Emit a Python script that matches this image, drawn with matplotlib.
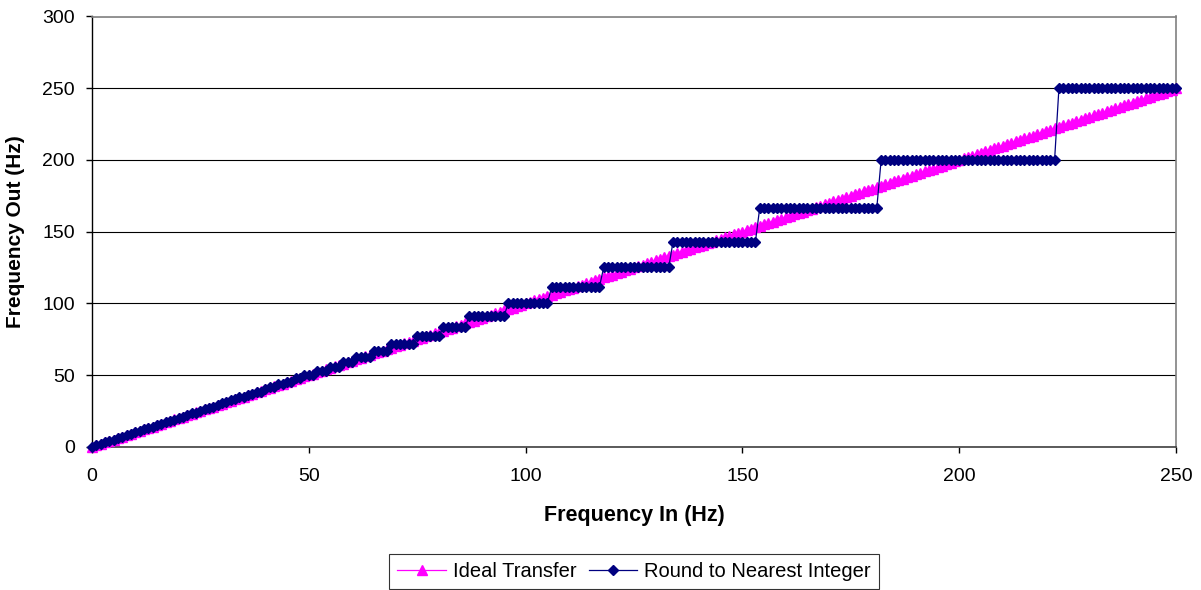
"""
Transfer chart: ideal frequency output vs. output rounded to nearest integer divider.
"""

import matplotlib
matplotlib.use("Agg")
import matplotlib.pyplot as plt

# input frequency, 0..250 Hz in steps of 1 Hz
freq_in = list(range(0, 251))

ideal_out = list(range(0, 251))

# rounded transfer, individual points for 0..48 Hz
round_low = [
    0.00, 1.00, 2.00, 3.00, 4.00, 5.00, 5.99, 6.99, 8.00, 9.01,
    10.00, 10.99, 12.05, 12.99, 14.08, 14.93, 15.87, 16.95, 17.86, 18.87,
    20.00, 20.83, 22.22, 23.26, 23.81, 25.00, 26.32, 27.03, 27.78, 29.41,
    30.30, 31.25, 32.26, 33.33, 34.48, 34.48, 35.71, 37.04, 38.46, 38.46,
    40.00, 41.67, 41.67, 43.48, 43.48, 45.45, 45.45, 47.62, 47.62,
]
# rounded transfer from 49 Hz on: plateau level and how many points sit on it
step_levels = [50.00, 52.63, 55.56, 58.82, 62.50, 66.67, 71.43, 76.92, 83.33,
               90.91, 100.00, 111.11, 125.00, 142.86, 166.67, 200.00, 250.00]
step_counts = [3, 3, 3, 3, 4, 4, 6, 6, 6, 9, 10, 12, 16, 20, 28, 41, 28]

round_out = round_low + [lvl for lvl, n in zip(step_levels, step_counts) for _ in range(n)]

plt.rcParams['font.family'] = ['Liberation Sans', 'DejaVu Sans']

W, H = 1201, 590
fig = plt.figure(figsize=(W / 100, H / 100), dpi=100)
ax = fig.add_axes([92 / W, (H - 446.7) / H, (1176 - 92) / W, (446.7 - 16.5) / H])

# gridlines
ax.set_axisbelow(True)
ax.yaxis.grid(True, color='black', linewidth=0.8)

ax.plot(freq_in, ideal_out, color='#FF00FF', linewidth=0.9, marker='^',
        markersize=6.5, markeredgecolor='#FF00FF', markerfacecolor='#FF00FF',
        label='Ideal Transfer', clip_on=False, zorder=3)
ax.plot(freq_in, round_out, color='#000080', linewidth=0.9, marker='D',
        markersize=4.8, markeredgecolor='#000080', markerfacecolor='#000080',
        label='Round to Nearest Integer', clip_on=False, zorder=4)

ax.set_xlim(0, 250)
ax.set_ylim(0, 300)
ax.set_xticks([0, 50, 100, 150, 200, 250])
ax.set_yticks([0, 50, 100, 150, 200, 250, 300])

for side in ['top', 'right']:
    ax.spines[side].set_color('#808080')
    ax.spines[side].set_linewidth(1.2)
ax.spines['left'].set_color('black')
ax.spines['bottom'].set_color('#404040')
ax.spines['left'].set_linewidth(1.0)
ax.spines['bottom'].set_linewidth(1.2)

ax.tick_params(axis='both', direction='out', length=4.5, width=1.0,
               labelsize=14, colors='black')
ax.tick_params(axis='x', pad=11)
ax.tick_params(axis='y', pad=8)

ax.set_xlabel('Frequency In (Hz)', fontsize=15.5, fontweight='bold')
ax.set_ylabel('Frequency Out (Hz)', fontsize=15, fontweight='bold')
ax.xaxis.set_label_coords(0.5, (446.7 - 516) / 430.2)
ax.yaxis.set_label_coords((16 - 92) / 1084, 0.5)
ax.xaxis.label.set_va('center')
ax.yaxis.label.set_va('center')

leg = fig.legend(loc='upper center', bbox_to_anchor=(634 / W, (H - 554) / H),
                 ncol=2, frameon=True, fancybox=False, shadow=False,
                 fontsize=14.5, handlelength=2.4, columnspacing=0.6,
                 handletextpad=0.35, borderpad=0.4, borderaxespad=0)
leg.get_frame().set_edgecolor('black')
leg.get_frame().set_linewidth(0.8)

fig.savefig('out.png', dpi=100)
